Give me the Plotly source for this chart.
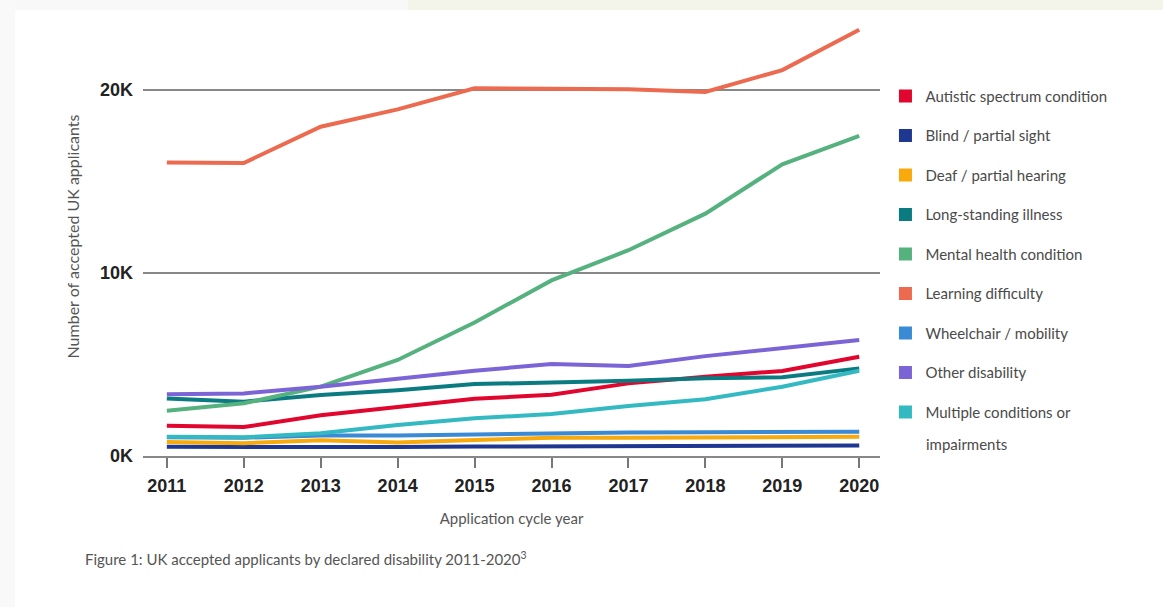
import plotly.graph_objects as go

# Application cycle years
years = [2011, 2012, 2013, 2014, 2015, 2016, 2017, 2018, 2019, 2020]

# Accepted UK applicants by declared disability
autistic = [1650, 1580, 2230, 2680, 3130, 3350, 3970, 4330, 4650, 5430]
blind = [500, 480, 490, 490, 520, 540, 540, 550, 560, 580]
deaf = [760, 700, 860, 740, 880, 1000, 1000, 1000, 1020, 1050]
long_standing = [3150, 2970, 3330, 3600, 3930, 4000, 4110, 4250, 4300, 4790]
mental_health = [2470, 2880, 3790, 5250, 7300, 9600, 11250, 13250, 15950, 17500]
learning = [16050, 16020, 18000, 18950, 20100, 20060, 20050, 19900, 21100, 23300]
wheelchair = [1030, 1000, 1120, 1120, 1180, 1250, 1280, 1300, 1300, 1330]
other = [3370, 3420, 3790, 4250, 4660, 5030, 4920, 5460, 5880, 6340]
multiple = [1050, 1020, 1240, 1690, 2060, 2300, 2730, 3100, 3790, 4660]

series_names = [
    "Autistic spectrum condition",
    "Blind / partial sight",
    "Deaf / partial hearing",
    "Long-standing illness",
    "Mental health condition",
    "Learning difficulty",
    "Wheelchair / mobility",
    "Other disability",
    "Multiple conditions or",
]
series_values = [autistic, blind, deaf, long_standing, mental_health,
                 learning, wheelchair, other, multiple]
series_colors = ["#e1062d", "#1e3790", "#f8a90c", "#0b7b82", "#55b27f",
                 "#ec6a4f", "#3a8ad6", "#7b64d6", "#33b9c2"]

y_ticks = [0, 10000, 20000]
y_tick_labels = ["0K", "10K", "20K"]

TEXT_FONT = "Lato, 'Open Sans', sans-serif"
NUM_FONT = "'Liberation Sans Narrow', 'Liberation Sans', sans-serif"

fig = go.Figure()

for name, vals, col in zip(series_names, series_values, series_colors):
    fig.add_trace(go.Scatter(
        x=years, y=vals, mode="lines", name=name,
        line=dict(color=col, width=4),
        showlegend=False, legendgroup=name,
    ))

# square swatches for the legend
for name, col in zip(series_names, series_colors):
    fig.add_trace(go.Scatter(
        x=[None], y=[None], mode="markers", name=name,
        marker=dict(symbol="square", size=13, color=col),
        legendgroup=name, showlegend=True,
    ))

# background framing: soft grey edges and cream band at the top
shapes = [
    dict(type="rect", xref="paper", yref="paper",
         x0=-0.2, x1=0.3596, y0=1.016, y1=1.04,
         fillcolor="#f8f8f8", line_width=0, layer="below"),
    dict(type="rect", xref="paper", yref="paper",
         x0=0.3596, x1=1.4, y0=1.016, y1=1.04,
         fillcolor="#f3f4ea", line_width=0, layer="below"),
    dict(type="rect", xref="paper", yref="paper",
         x0=-0.2, x1=-0.1737, y0=-0.4, y1=1.04,
         fillcolor="#f9f9f9", line_width=0, layer="below"),
]

fig.update_layout(
    width=1163, height=607,
    margin=dict(l=143, r=283, t=17, b=151),
    paper_bgcolor="white", plot_bgcolor="white",
    shapes=shapes,
    showlegend=True,
    legend=dict(
        x=1.0074, y=0.857, xanchor="left", yanchor="top",
        font=dict(family=TEXT_FONT, size=15, color="#4a4a4a"),
        traceorder="grouped", tracegroupgap=17,
        itemclick=False, itemdoubleclick=False,
        bgcolor="rgba(0,0,0,0)",
    ),
    xaxis=dict(
        range=[2010.69, 2020.27],
        tickmode="array", tickvals=years, ticktext=[str(y) for y in years],
        ticks="outside", ticklen=10, tickwidth=1.5, tickcolor="#777",
        showline=True, linecolor="#888", linewidth=1.5,
        showgrid=False, zeroline=False,
        tickfont=dict(family=NUM_FONT, size=18, color="#222", weight="bold"),
        ticklabelstandoff=3,
        title=dict(text="Application cycle year", standoff=18,
                   font=dict(family=TEXT_FONT, size=15, color="#555")),
    ),
    yaxis=dict(
        range=[0, 24000],
        tickmode="array", tickvals=y_ticks, ticktext=y_tick_labels,
        ticks="", showline=False,
        showgrid=True, gridcolor="#888", gridwidth=1.5,
        zeroline=False,
        tickfont=dict(family=NUM_FONT, size=18, color="#222", weight="bold"),
        ticklabelstandoff=9,
        title=dict(text="Number of accepted UK applicants", standoff=16,
                   font=dict(family=TEXT_FONT, size=16, color="#555")),
    ),
    annotations=[
        dict(text="impairments", xref="paper", yref="paper",
             x=1.060, y=(456 - 444) / 439, xanchor="left", yanchor="middle",
             showarrow=False,
             font=dict(family=TEXT_FONT, size=15, color="#4a4a4a")),
        dict(text="Figure 1: UK accepted applicants by declared disability 2011-2020<sup>3</sup>",
             xref="paper", yref="paper",
             x=(83 - 143) / 737, y=(456 - 558) / 439,
             xanchor="left", yanchor="middle", showarrow=False,
             font=dict(family=TEXT_FONT, size=15, color="#555")),
    ],
)

fig.write_html("out.html")
